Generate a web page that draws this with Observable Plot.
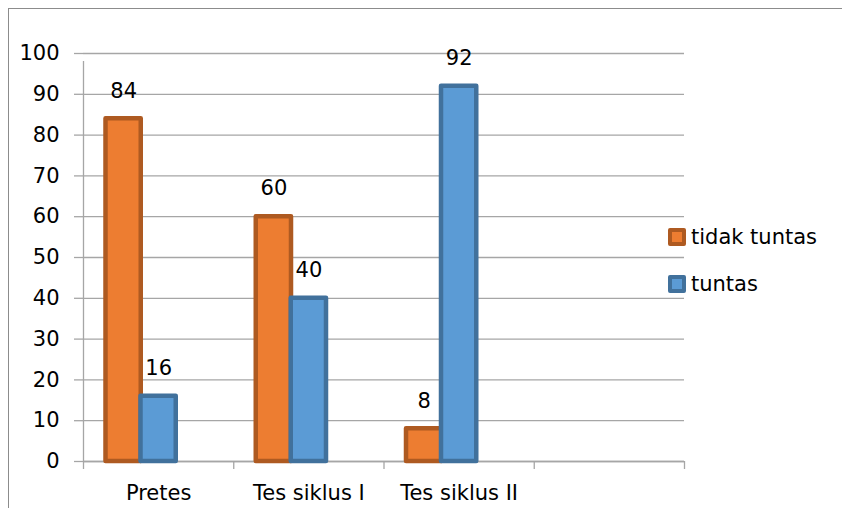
<!DOCTYPE html>
<html>
<head>
<meta charset="utf-8">
<script src="https://cdn.jsdelivr.net/npm/d3@7"></script>
<script src="https://cdn.jsdelivr.net/npm/@observablehq/plot@0.6"></script>
<style>
  html, body { margin: 0; padding: 0; background: #fff; }
  #wrap { position: relative; width: 842px; height: 508px; overflow: hidden; font-family: "DejaVu Sans", sans-serif; }
  #frame { position: absolute; left: 8px; top: 8px; width: 900px; height: 600px; border-left: 1.5px solid #8c8c8c; border-top: 1.5px solid #8c8c8c; }
  #chart { position: absolute; left: 0; top: 0; }
  .leg { position: absolute; left: 668px; display: flex; align-items: center; font-size: 21px; color: #000; }
  .sw { width: 10px; height: 10px; border-width: 4px; border-style: solid; border-radius: 2px; margin-right: 5px; }
</style>
</head>
<body>
<div id="wrap">
  <div id="frame"></div>
  <div id="chart"></div>
  <div id="legend"></div>
</div>
<script>
const categories = ["Pretes", "Tes siklus I", "Tes siklus II", ""];
const seriesNames = ["tidak tuntas", "tuntas"];
const tidakTuntas = [84, 60, 8];
const tuntas = [16, 40, 92];
const yTicks = [0, 10, 20, 30, 40, 50, 60, 70, 80, 90, 100];

const fills = ["#ED7D31", "#5B9BD5"];
const strokes = ["#AE5A21", "#41719C"];

const rowsA = tidakTuntas.map((v, i) => ({cat: categories[i], i, value: v}));
const rowsB = tuntas.map((v, i) => ({cat: categories[i], i, value: v}));

const grey = "#a6a6a6";
const fs = 21;

const chart = Plot.plot({
  width: 842,
  height: 508,
  marginLeft: 83,
  marginRight: 158,
  marginTop: 53,
  marginBottom: 47,
  x: {type: "linear", domain: [0, categories.length]},
  y: {domain: [0, 100]},
  style: {fontFamily: "DejaVu Sans", fontSize: fs + "px", color: "#000", background: "transparent", overflow: "visible"},
  marks: [
    Plot.gridY(yTicks, {stroke: grey, strokeOpacity: 1, strokeWidth: 1.3}),
    Plot.axisY(yTicks, {tickSize: 9, tickPadding: 15, stroke: grey, strokeWidth: 1.3, label: null, fill: "#000", fontSize: fs}),
    Plot.ruleX([0], {y1: 0, y2: 100, stroke: grey, strokeWidth: 1.3, insetBottom: -8}),
    Plot.ruleY([0], {stroke: grey, strokeWidth: 1.3}),
    Plot.axisX(d3.range(categories.length + 1), {tickSize: 8, tickFormat: () => "", stroke: grey, strokeWidth: 1.3, label: null}),
    Plot.axisX(categories.map((c, i) => i + 0.5), {tickSize: 0, tickPadding: 24, tickFormat: d => categories[Math.floor(d)], label: null, fill: "#000", fontSize: fs}),
    Plot.rectY(rowsA, {x1: d => d.i, x2: d => d.i + 1, y: "value", fill: fills[0], stroke: strokes[0], strokeWidth: 4.5, strokeLinejoin: "round", insetLeft: 22.5, insetRight: 92.5}),
    Plot.rectY(rowsB, {x1: d => d.i, x2: d => d.i + 1, y: "value", fill: fills[1], stroke: strokes[1], strokeWidth: 4.5, strokeLinejoin: "round", insetLeft: 57.5, insetRight: 57.5}),
    Plot.text(rowsA, {x: d => d.i + 0.5, y: "value", text: d => String(d.value), dx: -35, dy: -28, fontSize: fs, fill: "#000"}),
    Plot.text(rowsB, {x: d => d.i + 0.5, y: "value", text: d => String(d.value), dx: 0, dy: -28, fontSize: fs, fill: "#000"})
  ]
});
document.getElementById("chart").appendChild(chart);

const legend = document.getElementById("legend");
const legendTops = [225, 272];
seriesNames.forEach((name, k) => {
  const item = document.createElement("div");
  item.className = "leg";
  item.style.top = legendTops[k] + "px";
  const sw = document.createElement("div");
  sw.className = "sw";
  sw.style.background = fills[k];
  sw.style.borderColor = strokes[k];
  const label = document.createElement("span");
  label.textContent = name;
  item.appendChild(sw);
  item.appendChild(label);
  legend.appendChild(item);
});
</script>
</body>
</html>
